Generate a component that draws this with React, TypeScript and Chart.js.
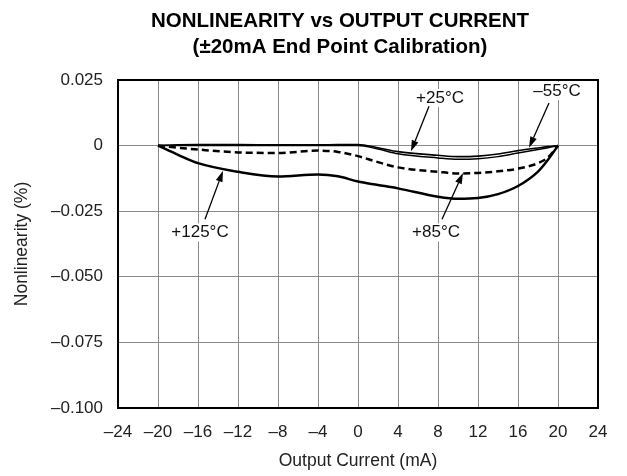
import React, { useEffect, useRef } from "react";
import { Chart, registerables } from "chart.js";

Chart.register(...registerables);

const xValues = [-20, -18, -16, -12, -8, -4, -2, 0, 2, 4, 8, 10, 12, 14, 16, 18, 19, 20];
const minus55 = [0, 0.0003, 0.0004, 0.0004, 0.0003, 0.0003, 0.0004, 0.0004, -0.0008, -0.0023, -0.0037, -0.0042, -0.004, -0.0032, -0.0019, -0.0009, -0.0004, 0];
const plus25 = [0, 0, 0, 0, 0, 0, 0, 0, -0.0013, -0.0031, -0.0047, -0.0052, -0.005, -0.0042, -0.0028, -0.0015, -0.0008, 0];
const plus85 = [0, -0.0008, -0.0015, -0.0026, -0.0028, -0.0019, -0.0024, -0.004, -0.0063, -0.0083, -0.01, -0.0106, -0.0104, -0.0098, -0.0088, -0.0067, -0.0045, 0];
const plus125 = [0, -0.0035, -0.0067, -0.01, -0.0118, -0.011, -0.0117, -0.0137, -0.015, -0.0163, -0.0195, -0.0203, -0.02, -0.0185, -0.0154, -0.0099, -0.0054, 0];

const titleLines = ["NONLINEARITY vs OUTPUT CURRENT", "(±20mA End Point Calibration)"];
const xTitle = "Output Current (mA)";
const yTitle = "Nonlinearity (%)";

// label text, text position (x,y), arrow start, arrow tip — in data units
const labelNames = ["+25°C", "–55°C", "+125°C", "+85°C"];
const labelPos = [[8.2, 0.0181], [19.9, 0.0208], [-15.8, -0.0331], [7.8, -0.0331]];
const arrowFrom = [[7.1, 0.015], [19.1, 0.0162], [-15.3, -0.0281], [8.4, -0.0281]];
const arrowTo = [[5.3, -0.0022], [17.1, -0.0008], [-13.5, -0.0096], [10.5, -0.0104]];

const FONT = "'Liberation Sans', Arial, Helvetica, sans-serif";

const toPts = (ys: number[]) => xValues.map((x, i) => ({ x, y: ys[i] }));

const fmtY = (v: number) => {
  if (Math.abs(v) < 1e-9) return "0";
  const s = Math.abs(v).toFixed(3);
  return v < 0 ? "–" + s : s;
};
const fmtX = (v: number) => (v < 0 ? "–" + Math.abs(v) : String(v));

const decorPlugin = {
  id: "decor",
  afterDraw(chart: any) {
    const { ctx, chartArea, scales } = chart;
    const xs = scales.x;
    const ys = scales.y;
    ctx.save();
    // frame
    ctx.strokeStyle = "#000";
    ctx.lineWidth = 2;
    ctx.strokeRect(chartArea.left, chartArea.top, chartArea.right - chartArea.left, chartArea.bottom - chartArea.top);
    // title
    ctx.fillStyle = "#000";
    ctx.textAlign = "center";
    ctx.textBaseline = "middle";
    ctx.font = "bold 20.5px " + FONT;
    const cx = chartArea.left + (chartArea.right - chartArea.left) / 2 - 18;
    ctx.fillText(titleLines[0], cx, 21);
    ctx.fillText(titleLines[1], cx, 47);
    // labels & arrows
    ctx.font = "17px " + FONT;
    for (let i = 0; i < labelNames.length; i++) {
      const tx = xs.getPixelForValue(labelPos[i][0]);
      const ty = ys.getPixelForValue(labelPos[i][1]);
      ctx.fillStyle = "#fff";
      const w = ctx.measureText(labelNames[i]).width;
      ctx.fillRect(tx - w / 2 - 1, ty - 9, w + 2, 18);
      ctx.fillStyle = "#111";
      ctx.fillText(labelNames[i], tx, ty);
      const x1 = xs.getPixelForValue(arrowFrom[i][0]);
      const y1 = ys.getPixelForValue(arrowFrom[i][1]);
      const x2 = xs.getPixelForValue(arrowTo[i][0]);
      const y2 = ys.getPixelForValue(arrowTo[i][1]);
      const ang = Math.atan2(y2 - y1, x2 - x1);
      const hl = 11, hw = 3.5;
      const bx = x2 - hl * Math.cos(ang);
      const by = y2 - hl * Math.sin(ang);
      ctx.strokeStyle = "#000";
      ctx.lineWidth = 1.3;
      ctx.beginPath();
      ctx.moveTo(x1, y1);
      ctx.lineTo(bx, by);
      ctx.stroke();
      ctx.beginPath();
      ctx.moveTo(x2, y2);
      ctx.lineTo(bx + hw * Math.sin(ang), by - hw * Math.cos(ang));
      ctx.lineTo(bx - hw * Math.sin(ang), by + hw * Math.cos(ang));
      ctx.closePath();
      ctx.fillStyle = "#000";
      ctx.fill();
    }
    ctx.restore();
  },
};

export default function App() {
  const ref = useRef<HTMLCanvasElement | null>(null);
  useEffect(() => {
    if (!ref.current) return;
    const common = { pointRadius: 0, tension: 0.4, cubicInterpolationMode: "monotone" as const, borderColor: "#000", fill: false };
    const chart = new Chart(ref.current, {
      type: "line",
      data: {
        datasets: [
          { label: "+125°C", data: toPts(plus125), borderWidth: 2.5, ...common },
          { label: "+85°C", data: toPts(plus85), borderWidth: 2.5, borderDash: [7, 4], ...common },
          { label: "+25°C", data: toPts(plus25), borderWidth: 1.5, ...common },
          { label: "–55°C", data: toPts(minus55), borderWidth: 1.6, ...common },
        ],
      },
      options: {
        animation: false,
        responsive: false,
        maintainAspectRatio: false,
        layout: { padding: { top: 80, right: 29, left: 0, bottom: 0 } },
        plugins: { legend: { display: false }, title: { display: false }, tooltip: { enabled: false } },
        scales: {
          x: {
            type: "linear",
            min: -24,
            max: 24,
            afterFit: (s: any) => { s.height = 68; },
            grid: { color: "#8a8a8a", lineWidth: 1, drawTicks: false },
            border: { display: false },
            ticks: { stepSize: 4, padding: 14, color: "#222", font: { size: 17, family: FONT }, callback: (v: any) => fmtX(Number(v)) },
            title: { display: true, text: xTitle, color: "#222", font: { size: 17.5, family: FONT }, padding: { top: 0 } },
          },
          y: {
            type: "linear",
            min: -0.1,
            max: 0.025,
            afterFit: (s: any) => { s.width = 118; },
            grid: { color: "#8a8a8a", lineWidth: 1, drawTicks: false },
            border: { display: false },
            ticks: { stepSize: 0.025, padding: 15, color: "#222", font: { size: 17, family: FONT }, callback: (v: any) => fmtY(Number(v)) },
            title: { display: true, text: yTitle, color: "#222", font: { size: 17.5, family: FONT }, padding: { bottom: 0, top: 12 } },
          },
        },
      },
      plugins: [decorPlugin],
    });
    return () => chart.destroy();
  }, []);
  return (
    <div style={{ position: "fixed", left: 0, top: 0, width: 627, height: 476, background: "#fff" }}>
      <canvas ref={ref} width={627} height={476} style={{ width: 627, height: 476 }} />
    </div>
  );
}
